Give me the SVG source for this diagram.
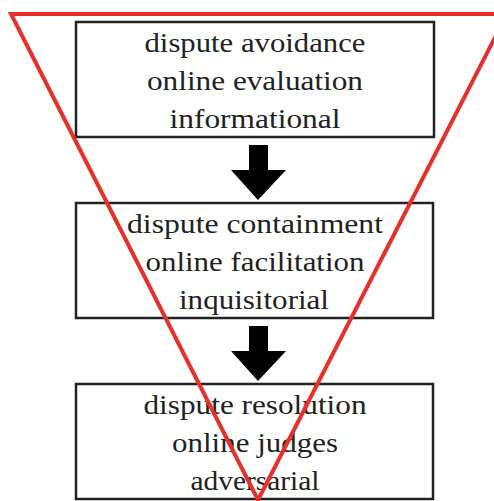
<svg xmlns="http://www.w3.org/2000/svg" width="494" height="501" viewBox="0 0 494 501">
<style>
.box{fill:#fff;stroke:#222;stroke-width:2.5}
.t{font-family:"Liberation Serif",serif;font-size:27px;fill:#222;text-anchor:middle}
.arr{fill:#000}
</style>
<rect width="494" height="501" fill="#fff"/>
<g id="node1">
<rect class="box" x="76" y="22" width="358" height="115"/>
<text class="t" x="255" y="52" textLength="221" lengthAdjust="spacingAndGlyphs">dispute avoidance</text>
<text class="t" x="255" y="90" textLength="216" lengthAdjust="spacingAndGlyphs">online evaluation</text>
<text class="t" x="255" y="128" textLength="171" lengthAdjust="spacingAndGlyphs">informational</text>
</g>
<g id="node2">
<rect class="box" x="76" y="203" width="357" height="115"/>
<text class="t" x="255" y="233" textLength="256" lengthAdjust="spacingAndGlyphs">dispute containment</text>
<text class="t" x="255" y="271" textLength="219" lengthAdjust="spacingAndGlyphs">online facilitation</text>
<text class="t" x="254" y="309" textLength="150" lengthAdjust="spacingAndGlyphs">inquisitorial</text>
</g>
<g id="node3">
<rect class="box" x="76" y="384" width="357" height="115"/>
<text class="t" x="255" y="414" textLength="223" lengthAdjust="spacingAndGlyphs">dispute resolution</text>
<text class="t" x="255" y="452" textLength="166" lengthAdjust="spacingAndGlyphs">online judges</text>
<text class="t" x="255" y="490" textLength="129" lengthAdjust="spacingAndGlyphs">adversarial</text>
</g>
<g id="connectors">
<polygon class="arr" points="249,145 268,145 268,170 286,170 258,200 231,170 249,170"/>
<polygon class="arr" points="249,326 268,326 268,351 286,351 258,381 231,351 249,351"/>
</g>
<polygon id="triangle" points="11,14 507,14 258,500" fill="none" stroke="#e8302a" stroke-width="4" stroke-linejoin="miter"/>
</svg>
